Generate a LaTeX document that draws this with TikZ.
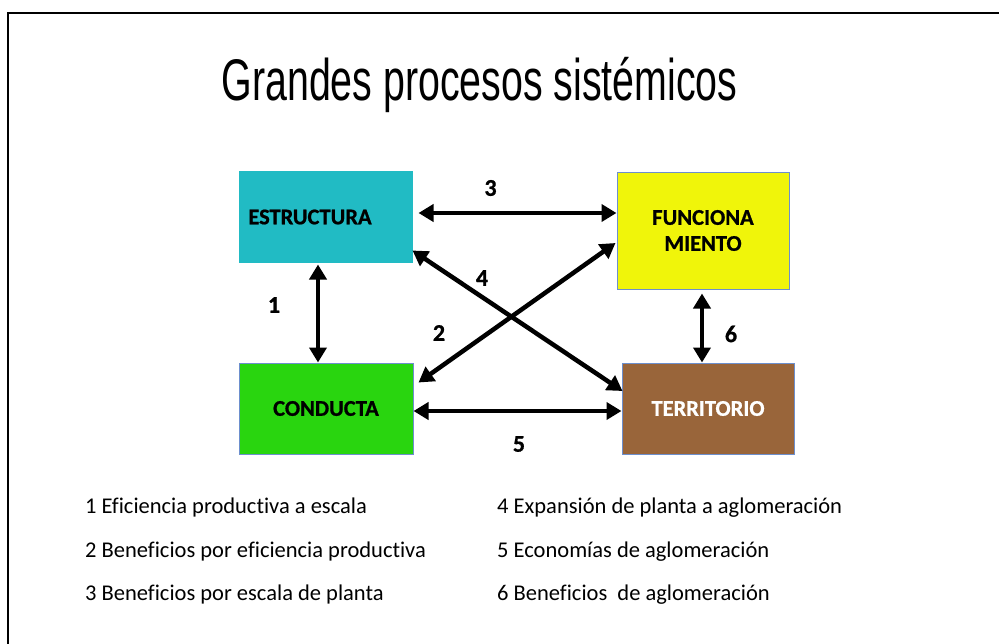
\documentclass[tikz,border=0pt]{standalone}
\usepackage{fontspec}
\usepackage{graphicx}
\setmainfont{Carlito}[Ligatures=NoCommon, BoldFont={Carlito Bold}]
\newfontfamily\heavyfont{Carlito Bold}[Ligatures=NoCommon, FakeBold=0.8]
\newfontfamily\titlefont{Liberation Sans}
\usetikzlibrary{arrows.meta,calc}
\definecolor{cEstr}{HTML}{21BBC4}
\definecolor{cFunc}{HTML}{F0F50A}
\definecolor{cCond}{HTML}{29D50F}
\definecolor{cTerr}{HTML}{99653A}
\definecolor{cEdge}{HTML}{6D8FCD}
\tikzset{
  box/.style={draw=cEdge, line width=1pt, inner sep=0pt, align=center,
    font=\heavyfont\fontsize{22.5}{26}\selectfont},
  arr/.style={line width=4.5pt,
    {Triangle[length=15pt,width=17pt]}-{Triangle[length=15pt,width=17pt]}},
  num/.style={font=\heavyfont\fontsize{24}{28}\selectfont, inner sep=0pt},
  legend/.style={font=\fontsize{22.5}{26}\selectfont, inner sep=0pt, anchor=base west},
}
\begin{document}
\begin{tikzpicture}[x=1pt,y=-1pt]
\useasboundingbox (0,0) rectangle (999,643);
\draw[line width=2pt] (1040,13) -- (7.5,13) -- (7.5,690);
\node[inner sep=0pt, anchor=base] (title) at (479.5,100)
  {\titlefont\fontsize{58.7}{60}\selectfont\scalebox{0.67}[1]{Grandes procesos sistémicos}};
\node[box, draw=none, fill=cEstr, minimum width=174pt, minimum height=92pt] (estr) at (326,217) {ESTRUCTURA\hspace*{32pt}};
\node[box, fill=cFunc, minimum width=172pt, minimum height=117pt] (func) at (703,230.5) {FUNCIONA\\MIENTO};
\node[box, fill=cCond, minimum width=174pt, minimum height=91pt] (cond) at (326,408.5) {CONDUCTA};
\node[box, fill=cTerr, text=white, minimum width=172pt, minimum height=91pt] (terr) at (708,408.5) {TERRITORIO};
% arrows
\draw[arr] ($(estr.south)+(-8,1)$) -- ($(cond.north)+(-8,0)$);
\draw[arr] ($(func.south)+(-1,4)$) -- ($(terr.north)+(-6,0)$);
\draw[arr] ($(estr.east)+(5,-4)$) -- ($(func.west)+(0,-17.5)$);
\draw[arr] ($(estr.south east)+(-1,-13)$) -- ($(terr.west)+(1,-17.5)$);
\draw[arr] ($(func.west)+(-1,12.5)$) -- ($(cond.north east)+(5,20)$);
\draw[arr] ($(cond.east)+(0,2.5)$) -- ($(terr.west)+(0,2.5)$);
% numbers
\node[num] (n3) at (490.5,188) {3};
\node[num] (n4) at (482,278) {4};
\node[num] (n2) at (439,333) {2};
\node[num] (n1) at (274,305) {1};
\node[num] (n6) at (731,334) {6};
\node[num] (n5) at (519,444) {5};
% legend
\node[legend] (l1) at (85,513) {1 Eficiencia productiva a escala};
\node[legend] (l2) at (85,557) {2 Beneficios por eficiencia productiva};
\node[legend] (l3) at (85,600) {3 Beneficios por escala de planta};
\node[legend] (l4) at (497,513) {4 Expansión de planta a aglomeración};
\node[legend] (l5) at (497,557) {5 Economías de aglomeración};
\node[legend] (l6) at (497,600) {6 Beneficios\ \ de aglomeración};
\end{tikzpicture}
\end{document}
